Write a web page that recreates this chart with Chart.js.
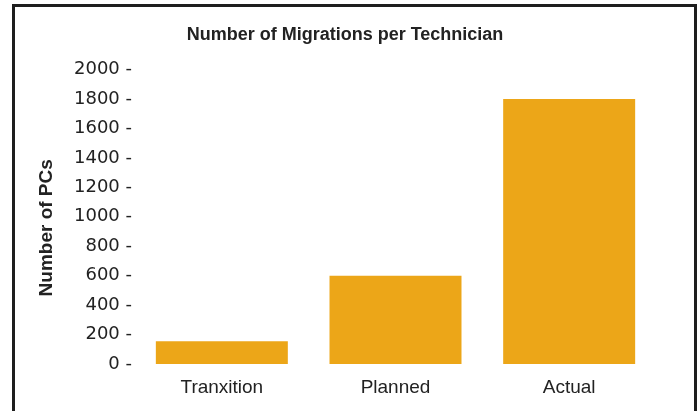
<!DOCTYPE html>
<html>
<head>
<meta charset="utf-8">
<script src="https://cdn.jsdelivr.net/npm/chart.js@4/dist/chart.umd.min.js"></script>
<style>
    html, body { margin: 0; padding: 0; background: #fff; }
    #wrap { position: relative; width: 699px; height: 411px; overflow: hidden; }
    #frame {
        position: absolute; left: 12px; top: 4px; width: 679px; height: 420px;
        border: 3px solid #1e1e1e; border-bottom: none; pointer-events: none;
    }
</style>
</head>
<body>
<div id="wrap">
    <canvas id="migration-chart" width="699" height="411"></canvas>
    <div id="frame"></div>
</div>
<script>
// Chart data
const categories = ['Tranxition', 'Planned', 'Actual'];
const pcCounts = [155, 600, 1800];
const yTicks = [0, 200, 400, 600, 800, 1000, 1200, 1400, 1600, 1800, 2000];
const yTitle = 'Number of PCs';

const fontFamily = '"Liberation Sans", Arial, sans-serif';
const tickFamily = '"DejaVu Sans", sans-serif';
const textColor = '#222';

// Y axis title, placed a bit below the centre of the axis like the original
const yTitlePlugin = {
    id: 'yTitle',
    afterDraw(chart) {
        const c = chart.ctx;
        const area = chart.chartArea;
        c.save();
        c.translate(47, (area.top + area.bottom) / 2 + 11);
        c.rotate(-Math.PI / 2);
        c.font = 'bold 19px ' + fontFamily;
        c.fillStyle = textColor;
        c.textAlign = 'center';
        c.textBaseline = 'middle';
        c.fillText(yTitle, 0, 0);
        c.restore();
    }
};

const ctx = document.getElementById('migration-chart').getContext('2d');

let migrationChart = new Chart(ctx, {
    type: 'bar',
    data: {
        labels: categories,
        datasets: [{
            label: yTitle,
            data: pcCounts,
            backgroundColor: '#eca618',
            borderWidth: 0,
            categoryPercentage: 0.76,
            barPercentage: 1
        }]
    },
    options: {
        responsive: false,
        animation: false,
        layout: {
            padding: { top: 0, right: 43, bottom: 0, left: 34 }
        },
        plugins: {
            title: {
                display: true,
                text: 'Number of Migrations per Technician',
                color: textColor,
                font: { family: fontFamily, size: 18, weight: 'bold' },
                padding: { top: 24, bottom: 24 }
            },
            legend: { display: false },
            tooltip: { enabled: false }
        },
        scales: {
            x: {
                grid: { display: false, drawTicks: false },
                border: { display: false },
                ticks: {
                    color: textColor,
                    padding: 14,
                    font: { family: fontFamily, size: 19, lineHeight: 1 }
                }
            },
            y: {
                min: 0,
                max: 2000,
                afterBuildTicks: (scale) => {
                    scale.ticks = yTicks.map(v => ({ value: v }));
                },
                afterFit: (scale) => {
                    scale.width = 101;
                },
                grid: { display: false, drawTicks: false },
                border: { display: false },
                ticks: {
                    color: textColor,
                    padding: 3,
                    font: { family: tickFamily, size: 18 },
                    callback: (v) => v + ' -'
                }
            }
        }
    },
    plugins: [yTitlePlugin]
});
</script>
</body>
</html>
